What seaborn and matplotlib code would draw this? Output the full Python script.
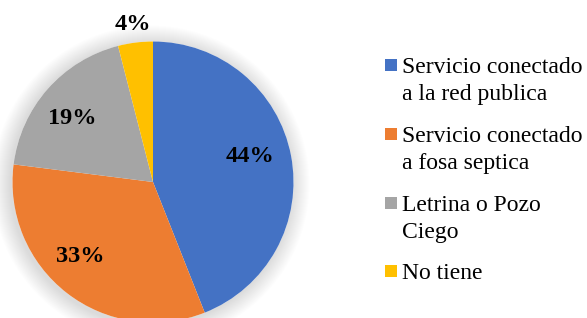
import matplotlib
matplotlib.use("Agg")
import matplotlib.pyplot as plt
import seaborn as sns
from matplotlib.patches import Circle

# data
categories = [
    "Servicio conectado\na la red publica",
    "Servicio conectado\na fosa septica",
    "Letrina o Pozo\nCiego",
    "No tiene",
]
shares = [44, 33, 19, 4]
colors = ["#4472C4", "#ED7D31", "#A5A5A5", "#FFC000"]

W, H = 587, 318

sns.set_theme(style="white")
plt.rcParams["font.family"] = ["Liberation Serif", "DejaVu Serif"]

fig = plt.figure(figsize=(W / 100, H / 100), dpi=100)
ax = fig.add_axes([0, 0, 1, 1])

center = (153, 136)
radius = 140.5

# soft outer shadow around the pie (slightly toward lower left)
for k in range(18):
    ax.add_patch(Circle((center[0] - 2, center[1] - 2), radius + 1 + k * 1.0,
                        color="black", alpha=0.009, lw=0, zorder=0))
ax.add_patch(Circle(center, radius, color="white", lw=0, zorder=0.5))

wedges, _, autotexts = ax.pie(
    shares,
    colors=sns.color_palette(colors),
    startangle=90,
    counterclock=False,
    center=center,
    radius=radius,
    autopct="%1.0f%%",
    wedgeprops=dict(linewidth=0),
    textprops=dict(fontsize=17.5, fontweight="bold", color="black"),
)
for w in wedges:
    w.set_zorder(1)

# Excel-style label placement (best fit)
label_pos = [(250, 162), (80, 62), (72, 200), (133, 294)]
for t, p in zip(autotexts, label_pos):
    t.set_position(p)
    t.set_ha("center")
    t.set_va("center")
    t.set_zorder(3)

# legend drawn by hand so the marker sits on the first line
legend_base = [H - 73, H - 142, H - 211, H - 279]
for lab, col, yb in zip(categories, colors, legend_base):
    ax.scatter([390.5], [yb + 8], marker="s", s=78, color=col, lw=0,
               clip_on=False, zorder=3)
    lines = lab.split("\n")
    for i, line in enumerate(lines):
        ax.text(402, yb - i * 27, line, fontsize=17, ha="left",
                va="baseline", color="black")

ax.set_xlim(0, W)
ax.set_ylim(0, H)
ax.set_aspect("auto")
ax.axis("off")

fig.savefig("out.png", dpi=100)
